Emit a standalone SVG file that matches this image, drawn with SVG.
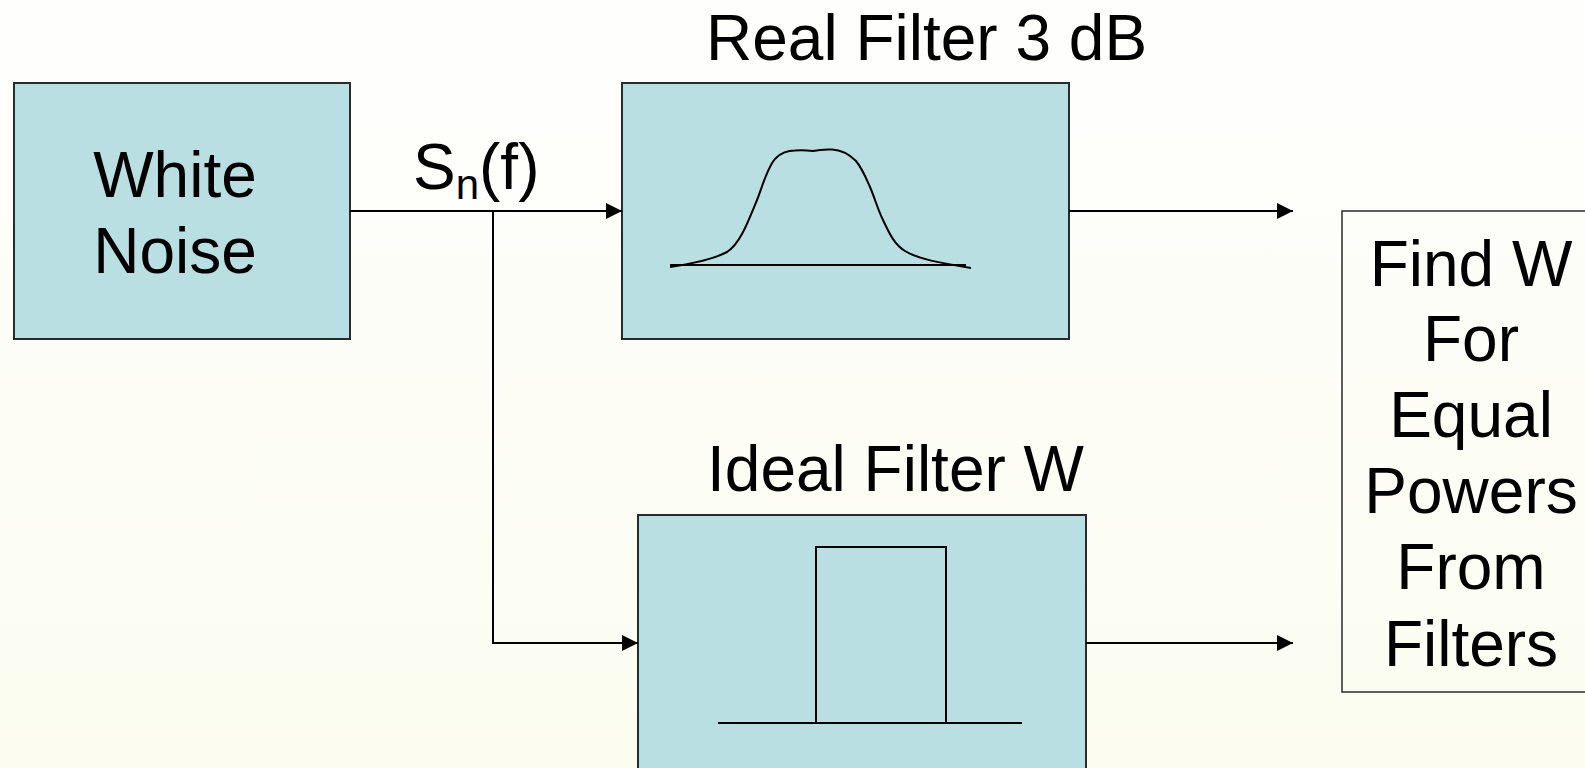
<svg xmlns="http://www.w3.org/2000/svg" width="1585" height="768" viewBox="0 0 1585 768">
<defs>
<linearGradient id="bg" x1="0" y1="0" x2="0" y2="1">
<stop offset="0" stop-color="#FEFEFD"/>
<stop offset="1" stop-color="#FCFDF0"/>
</linearGradient>
<marker id="arr" viewBox="0 0 16 16" refX="16" refY="8" markerWidth="16" markerHeight="16" markerUnits="userSpaceOnUse" orient="auto">
<path d="M0,0 L16,8 L0,16 Z" fill="#000"/>
</marker>
<style>
.box{fill:#BADFE3;stroke:#2a2a2a;stroke-width:2}
.wbox{fill:none;stroke:#2a2a2a;stroke-width:1.5}
.t{font-family:"Liberation Sans",Arial,sans-serif;font-size:64px;fill:#000}
.c{fill:none;stroke:#000;stroke-width:2}
.g{fill:none;stroke:#000;stroke-width:2}
</style>
</defs>
<rect x="0" y="0" width="1585" height="768" fill="url(#bg)"/>

<g id="white-noise">
<rect class="box" x="14" y="83" width="336" height="256"/>
<text class="t" x="175" y="197" text-anchor="middle">White</text>
<text class="t" x="175" y="273" text-anchor="middle">Noise</text>
</g>

<g id="real-filter">
<text class="t" x="706" y="60">Real Filter 3 dB</text>
<rect class="box" x="622" y="83" width="447" height="256"/>
<path class="g" d="M670,267 C690,264 712,260 727,252 C740,244 748,222 757,200 C761.5,189 768,165 776,158 C782,152 788,150.5 795,150.5 Q804,150 813,151 Q822,149 832,149.5 C842,150 850,155 856,161 C862,168 866,178 870,187 C874,196 878,210 883,220 C890,235 895,245 905,251 C918,259 940,263 971,268"/>
<line class="g" x1="670" y1="265" x2="966" y2="265"/>
</g>

<g id="ideal-filter">
<text class="t" x="707" y="491">Ideal Filter W</text>
<rect class="box" x="638" y="515" width="448" height="270"/>
<rect class="g" x="816" y="547" width="130" height="176"/>
<line class="g" x1="718" y1="723" x2="1022" y2="723"/>
</g>

<g id="find-w">
<rect class="wbox" x="1342" y="211" width="260" height="481"/>
<text class="t" x="1471" y="286" text-anchor="middle">Find W</text>
<text class="t" x="1471" y="361" text-anchor="middle">For</text>
<text class="t" x="1471" y="437" text-anchor="middle">Equal</text>
<text class="t" x="1471" y="513" text-anchor="middle">Powers</text>
<text class="t" x="1471" y="589" text-anchor="middle">From</text>
<text class="t" x="1471" y="666" text-anchor="middle">Filters</text>
</g>

<g id="connectors">
<line class="c" x1="350" y1="211" x2="622" y2="211" marker-end="url(#arr)"/>
<polyline class="c" points="493,211 493,643 638,643" marker-end="url(#arr)"/>
<line class="c" x1="1069" y1="211" x2="1293" y2="211" marker-end="url(#arr)"/>
<line class="c" x1="1086" y1="643" x2="1293" y2="643" marker-end="url(#arr)"/>
<text class="t" x="413" y="189">S<tspan dy="10" style="font-size:42px">n</tspan><tspan dy="-10">(f)</tspan></text>
</g>
</svg>
